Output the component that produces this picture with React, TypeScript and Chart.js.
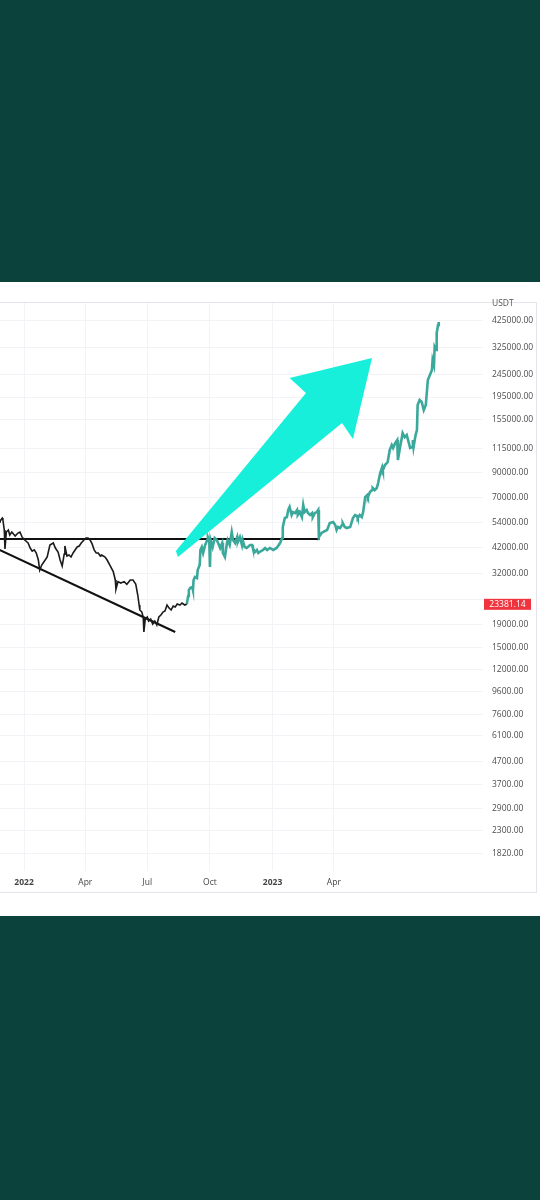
import { useEffect, useRef } from "react";
import { Chart, registerables } from "chart.js";

Chart.register(...registerables);

const FONT = "'Open Sans', 'Noto Sans', sans-serif";

// x values are days counted from 2022-01-01
const xTickDays = [0, 90, 181, 273, 365, 455];
const xTickLabels = ["2022", "Apr", "Jul", "Oct", "2023", "Apr"];

const yTicks = [1820, 2300, 2900, 3700, 4700, 6100, 7600, 9600, 12000, 15000, 19000, 24500, 32000, 42000, 54000, 70000, 90000, 115000, 155000, 195000, 245000, 325000, 425000];
const hiddenYTicks = [24500];

const lastPrice = 23381.14;
const currency = "USDT";

// actual price (black)
const priceDays = [-36, -35, -32, -31, -29, -28, -26, -23, -21, -18, -13, -9, -6, -3, 1, 6, 9, 12, 15, 18, 21, 23, 26, 31, 34, 38, 43, 46, 50, 53, 56, 59, 60, 63, 66, 69, 72, 75, 78, 81, 84, 88, 91, 94, 97, 100, 103, 106, 109, 112, 114, 119, 122, 126, 131, 134, 135, 138, 142, 147, 151, 156, 160, 164, 167, 169, 170, 173, 175, 176, 178, 181, 183, 186, 189, 192, 195, 198, 201, 204, 207, 210, 213, 216, 219, 222, 225, 229, 232, 236, 239];
const priceValues = [54300, 54900, 56500, 55400, 50000, 41200, 49000, 50000, 47500, 49000, 47000, 48500, 49000, 46600, 45150, 43800, 41600, 40300, 40800, 39540, 36800, 33200, 34960, 36800, 37940, 42900, 43800, 41600, 39900, 36800, 34600, 39100, 42500, 38340, 38730, 37940, 39540, 40770, 42040, 42460, 43800, 45150, 46100, 46100, 45150, 43400, 40770, 39540, 39540, 38340, 38730, 37940, 36800, 34960, 32700, 29990, 27300, 29500, 29080, 29500, 28700, 29990, 29990, 28800, 25720, 23220, 22060, 21600, 20530, 17610, 20100, 20530, 19700, 20100, 19100, 19710, 18920, 20530, 20960, 21600, 21830, 23220, 22500, 22060, 22980, 22750, 23450, 23220, 23700, 23220, 23381.14];

// projected path (teal)
const projDays = [239, 241, 242, 244, 247, 248, 249, 251, 254, 255, 258, 259, 261, 263, 266, 269, 270, 272, 273, 274, 277, 280, 283, 285, 288, 291, 292, 295, 298, 299, 302, 305, 307, 310, 313, 314, 317, 320, 321, 324, 327, 332, 335, 336, 339, 342, 344, 346, 351, 354, 357, 361, 366, 371, 376, 379, 380, 383, 386, 388, 390, 393, 395, 398, 401, 402, 405, 408, 410, 412, 415, 417, 420, 423, 424, 427, 430, 432, 433, 437, 439, 445, 449, 454, 457, 459, 461, 464, 467, 468, 471, 474, 479, 483, 486, 489, 490, 493, 496, 498, 501, 504, 505, 508, 511, 512, 515, 518, 520, 523, 526, 527, 530, 533, 534, 537, 540, 542, 545, 548, 549, 552, 555, 556, 559, 562, 564, 567, 570, 571, 572, 575, 577, 578, 581, 584, 587, 590, 593, 596, 599, 600, 602, 603, 605, 606, 608, 609];
const projValues = [23381.14, 25450, 27060, 27620, 27910, 27060, 29990, 30900, 30600, 33210, 34960, 40770, 42040, 39540, 42900, 45150, 46560, 45150, 34250, 45150, 42040, 46090, 45150, 43790, 41610, 43790, 39540, 37950, 43790, 45150, 42900, 49010, 45150, 43790, 46560, 44240, 46560, 42900, 45150, 42040, 41610, 42900, 42900, 41610, 39950, 40770, 39540, 39950, 40770, 41610, 40770, 41610, 40770, 41610, 43790, 46090, 51580, 56550, 57100, 61400, 63300, 58300, 60100, 59500, 61400, 58300, 60100, 57100, 64600, 60100, 61400, 59500, 58300, 59500, 57100, 59500, 60100, 61400, 46560, 48510, 49010, 50020, 53740, 54300, 52650, 50020, 51580, 51050, 52650, 53740, 51580, 51050, 51580, 56550, 58300, 57700, 56550, 58300, 57100, 60100, 70100, 71500, 70100, 73800, 75300, 76900, 75300, 76900, 80900, 89600, 95300, 92400, 97300, 99300, 100300, 113400, 119400, 115800, 121800, 125600, 102400, 115800, 129500, 134900, 129500, 132200, 125600, 115800, 116900, 125600, 116900, 132200, 139200, 179800, 189200, 185400, 170800, 179800, 232200, 244300, 257100, 284900, 270600, 325400, 315600, 375500, 407600, 420400];

// drawn trend lines
const resistanceDays = [-36, 434];
const resistanceValues = [45600, 45600];
const supportDays = [-36, 222];
const supportValues = [40800, 17610];

// big arrow annotation (anchored in date / price)
const arrowDays = [223, 414, 390, 511, 483, 467, 226];
const arrowPrices = [40400, 203200, 236900, 290800, 126900, 149500, 37950];

const toPts = (xs: number[], ys: number[]) => xs.map((x, i) => ({ x, y: ys[i] }));

const overlay = {
  id: "overlay",
  afterDatasetsDraw(chart: any) {
    const { ctx, scales } = chart;
    const x = scales.x, y = scales.y;
    ctx.save();
    ctx.beginPath();
    arrowDays.forEach((d, i) => {
      const px = x.getPixelForValue(d);
      const py = y.getPixelForValue(arrowPrices[i]);
      if (i === 0) ctx.moveTo(px, py);
      else ctx.lineTo(px, py);
    });
    ctx.closePath();
    ctx.fillStyle = "#18efda";
    ctx.fill();
    ctx.restore();
  },
  afterDraw(chart: any) {
    const { ctx, chartArea, scales } = chart;
    const y = scales.y;
    ctx.save();
    // frame
    ctx.strokeStyle = "#e3e5ea";
    ctx.lineWidth = 1;
    ctx.strokeRect(-1, chartArea.top + 0.5, 537.5, 590);
    // currency label
    ctx.fillStyle = "#555";
    ctx.font = `8.5px ${FONT}`;
    ctx.textAlign = "left";
    ctx.textBaseline = "middle";
    ctx.fillText(currency, chartArea.right + 9, chartArea.top + 1.5);
    // last price badge
    const py = y.getPixelForValue(lastPrice);
    ctx.fillStyle = "#f0343f";
    ctx.fillRect(chartArea.right + 1, py - 5.5, 47, 11);
    ctx.fillStyle = "#ffffff";
    ctx.textAlign = "center";
    ctx.fillText(lastPrice.toFixed(2), chartArea.right + 24.5, py + 0.5);
    ctx.restore();
  },
};

export default function App() {
  const ref = useRef<HTMLCanvasElement | null>(null);

  useEffect(() => {
    if (!ref.current) return;
    const chart = new Chart(ref.current, {
      type: "line",
      data: {
        datasets: [
          { data: toPts(priceDays, priceValues), borderColor: "#1b1b1b", borderWidth: 1.6, pointRadius: 0, tension: 0 },
          { data: toPts(projDays, projValues), borderColor: "#3aa89a", borderWidth: 2.6, pointRadius: 0, tension: 0 },
          { data: toPts(resistanceDays, resistanceValues), borderColor: "#111111", borderWidth: 2, pointRadius: 0 },
          { data: toPts(supportDays, supportValues), borderColor: "#111111", borderWidth: 2.2, pointRadius: 0 },
        ],
      },
      options: {
        responsive: false,
        animation: false,
        devicePixelRatio: 1,
        layout: { padding: { top: 20, left: 0, right: 0, bottom: 0 } },
        plugins: { legend: { display: false }, tooltip: { enabled: false } },
        scales: {
          x: {
            type: "linear",
            min: -35.3,
            max: 674,
            afterBuildTicks: (s: any) => {
              s.ticks = xTickDays.map((v) => ({ value: v }));
            },
            afterFit: (s: any) => {
              s.height = 45;
            },
            grid: { color: "#f1f3f6", drawTicks: false },
            border: { display: false },
            ticks: {
              autoSkip: false,
              maxRotation: 0,
              padding: 6,
              color: "#444444",
              font: (c: any) => {
                const idx = c.tick ? xTickDays.indexOf(c.tick.value) : -1;
                const lbl = idx >= 0 ? xTickLabels[idx] : "";
                return { family: FONT, size: 8.5, weight: /^\d{4}$/.test(lbl) ? "bold" : "normal" };
              },
              callback: (v: any) => {
                const i = xTickDays.indexOf(Number(v));
                return i >= 0 ? xTickLabels[i] : "";
              },
            },
          },
          y: {
            type: "logarithmic",
            position: "right",
            min: 1526,
            max: 515900,
            afterBuildTicks: (s: any) => {
              s.ticks = yTicks.map((v) => ({ value: v }));
            },
            afterFit: (s: any) => {
              s.width = 57;
            },
            grid: { color: "#f1f3f6", drawTicks: false },
            border: { display: false },
            ticks: {
              autoSkip: false,
              padding: 9,
              color: "#4d4d4d",
              font: { family: FONT, size: 8.5 },
              callback: (v: any) => (hiddenYTicks.includes(Number(v)) ? "" : Number(v).toFixed(2)),
            },
          },
        },
      },
      plugins: [overlay],
    });
    return () => chart.destroy();
  }, []);

  return (
    <div style={{ position: "absolute", left: 0, top: 0, width: 540, height: 1200, background: "#0b423b", overflow: "hidden" }}>
      <div style={{ position: "absolute", left: 0, top: 282, width: 540, height: 634, background: "#ffffff" }}>
        <canvas ref={ref} width={540} height={634} style={{ display: "block", width: 540, height: 634 }} />
      </div>
    </div>
  );
}
